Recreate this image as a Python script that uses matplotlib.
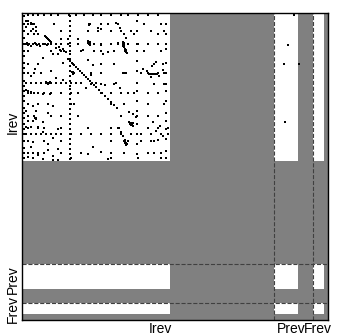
import numpy as np
import matplotlib
matplotlib.use("Agg")
import matplotlib.pyplot as plt
from matplotlib.colors import ListedColormap

# ---------------- data ----------------
block_names = ["Irev", "Prev", "Frev"]
block_rows = [251, 39, 17]        # rows per block
block_cols = [252, 39, 15]        # cols per block
active_rows = [148, 25, 11]       # non-padded rows per block
active_cols = [148, 24, 11]       # non-padded cols per block
xtick_pos = [138, 269, 296]
ytick_pos = [109, 267, 296]

# vertical dotted structures (column -> rows)
col_lines = {
    1: [2, 10, 17, 24, 30, 37, 42, 49, 54, 59, 67, 72, 77, 82, 87, 94, 99, 104,
        110, 115, 120, 127, 134, 139, 144],
    47: [2, 7, 12, 17, 22, 29, 32, 37, 40, 45, 52, 57, 62, 67, 72, 75, 80, 85, 90,
         95, 100, 105, 110, 115, 120, 125, 130, 135, 140, 145],
    114: [7, 17, 30, 37, 47, 57, 69, 77, 87, 97, 102, 110, 120, 130, 140],
    143: [10, 20, 35, 49, 59, 70, 77, 87, 99, 107, 115, 125, 137, 144],
}
# horizontal dotted structures (row -> cols)
row_lines = {
    1: [5, 10, 15, 21, 28, 35, 46, 53, 61, 70, 78, 88, 98, 105, 115, 125, 135],
    30: [3, 6, 10, 13, 16, 20, 25, 28, 33, 38, 45, 55, 71, 78, 88, 95, 105, 115,
         125, 135, 143],
    69: [3, 8, 13, 18, 23, 28, 33, 38, 43, 48, 53, 58],
    120: [3, 8, 13, 18, 23, 28, 33, 38, 48, 58, 68, 78, 88, 98, 108, 118, 128,
          138, 145],
    10: [5, 8, 11, 31, 78, 85, 95, 121, 138],
    17: [8, 13, 38, 65, 75, 88, 98, 108, 128, 141],
    20: [11, 15, 101, 111, 135],
    25: [38, 45, 55],
    37: [5, 28, 38, 41, 58, 71, 78, 91, 121, 138],
    50: [5, 15, 50, 78, 91, 140],
    59: [5, 11, 18, 68, 78, 118, 125, 135, 141, 100, 101, 102, 103],
    60: [126, 128, 130, 132, 134],
    70: [68, 78, 91, 131, 141],
    79: [5, 8, 11, 15, 21, 28, 38, 48, 55, 78, 88, 98, 105, 111, 125, 135],
    90: [5, 15, 25, 48, 51, 88, 101, 125, 141],
    102: [5, 11, 28, 38, 55, 98, 125, 135],
    114: [5, 15, 21, 38, 65, 88, 95, 125, 135, 145],
    127: [5, 21, 38, 88, 105, 118, 128, 131],
    139: [5, 10, 15, 21, 38, 58, 88, 101, 125, 131, 138],
    144: [10, 48, 88, 115, 138],
}
# diagonal entries
diag_idx = [10, 13, 22, 23, 24, 25, 26, 27, 28, 45, 47, 49, 51, 53, 55, 57, 59,
            61, 63, 65, 67, 69, 71, 73, 76, 79, 82, 85, 88, 91, 94]
# other individual nonzeros (row, col)
extra_pts = [
    (114, 96), (118, 98), (122, 100), (126, 102), (130, 104),
    (27, 65), (28, 66), (29, 65), (29, 66), (29, 67), (30, 66), (31, 67), (28, 67),
    (28, 100), (29, 101), (30, 100), (30, 101), (31, 101), (32, 100), (33, 101),
    (35, 102), (36, 103), (37, 102), (37, 103), (38, 103), (39, 104),
    (58, 49), (58, 50), (59, 50), (59, 51), (60, 50),
    (68, 23), (69, 24), (69, 25), (69, 26), (70, 25), (68, 27),
    (104, 12), (104, 13), (105, 13),
    (108, 106), (109, 108), (110, 107), (110, 109), (111, 108), (112, 110), (109, 110),
    (127, 101), (128, 102), (129, 103), (129, 102), (130, 104), (131, 103),
    (10, 66), (10, 67), (11, 66),
    (48, 133), (50, 131), (52, 129),
    (7, 3), (7, 4), (7, 5), (9, 8),
    (29, 4), (31, 5), (32, 8), (29, 12), (31, 14), (32, 17), (30, 22), (31, 24),
    (76, 3), (77, 5), (78, 8), (80, 20), (80, 27), (92, 10), (92, 30), (97, 3),
    (97, 13), (99, 25), (107, 5), (107, 10), (108, 20), (113, 3), (113, 8),
    (113, 15), (115, 35), (118, 20), (124, 30), (128, 10), (130, 25), (133, 8),
    (135, 35), (141, 15), (143, 5), (145, 20), (146, 30),
    (13, 3), (15, 10), (20, 5), (33, 36), (35, 40), (40, 30), (44, 20), (49, 40),
    (55, 12), (57, 28), (62, 8), (64, 33), (66, 40),
    (14, 75), (15, 78), (9, 93), (14, 97), (29, 95), (31, 78), (36, 60), (46, 65),
    (51, 70), (61, 68), (69, 73), (71, 82), (69, 93), (74, 97), (74, 63),
    (24, 103),
    (34, 33), (36, 37), (38, 43), (40, 35), (40, 80), (38, 85),
    (55, 120), (57, 124), (63, 128), (62, 136), (56, 140),
    (98, 106), (100, 110), (103, 113),
    (108, 130), (112, 137), (117, 133), (122, 140), (126, 135),
    (136, 25), (142, 30), (146, 35),
    (133, 70), (138, 78), (145, 85), (140, 65),
    (1, 271), (31, 265), (50, 261), (50, 276), (108, 262),
]

# ---------------- build ----------------
nr, nc = sum(block_rows), sum(block_cols)
rstart = np.cumsum([0] + block_rows[:-1])
cstart = np.cumsum([0] + block_cols[:-1])
ract = np.concatenate([np.arange(s, s + a) for s, a in zip(rstart, active_rows)])
cact = np.concatenate([np.arange(s, s + a) for s, a in zip(cstart, active_cols)])
bg = np.ones((nr, nc))
bg[np.ix_(ract, cact)] = 0

pts = []
for c, rows in col_lines.items():
    pts += [(r, c) for r in rows]
for r, cols in row_lines.items():
    pts += [(r, c) for c in cols]
pts += [(i, i) for i in diag_idx]
pts += extra_pts
pts = np.array(pts, dtype=float)

fig = plt.figure(figsize=(3.4, 3.36), dpi=100)
ax = fig.add_axes([22 / 340, 1 - 320 / 336, 306 / 340, 307 / 336])
ax.imshow(bg, cmap=ListedColormap(["white", "#808080"]), vmin=0, vmax=1,
          extent=(0, nc, nr, 0), aspect="auto", interpolation="nearest")
ax.plot(pts[:, 1] + 0.5, pts[:, 0] + 0.5, "s", color="black", ms=1.5, mew=0)

for s in cstart[1:]:
    ax.axvline(s, color="#404040", lw=0.8, ls="--")
for s in rstart[1:]:
    ax.axhline(s, color="#404040", lw=0.8, ls="--")

ax.set_xlim(0, nc)
ax.set_ylim(nr, 0)
font = dict(family=["Liberation Sans", "DejaVu Sans"], size=10)
ax.set_xticks(xtick_pos)
ax.set_xticklabels(block_names, **font)
ax.set_yticks(ytick_pos)
ax.set_yticklabels(block_names, rotation=90, va="center", **font)
ax.tick_params(length=0, pad=1.5)
for sp in ax.spines.values():
    sp.set_linewidth(1.0)
    sp.set_color("black")

fig.savefig("out.png", dpi=100)
